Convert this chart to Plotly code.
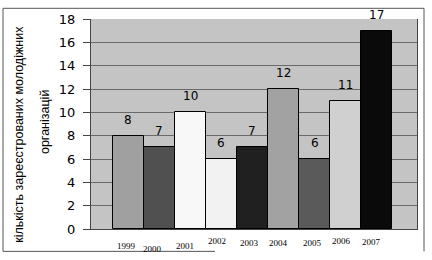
import plotly.graph_objects as go

years = ["1999", "2000", "2001", "2002", "2003", "2004", "2005", "2006", "2007"]
counts = [8, 7, 10, 6, 7, 12, 6, 11, 17]
bar_colors = ["#a0a0a0", "#505050", "#f8f8f8", "#f2f2f2", "#202020",
              "#a2a2a2", "#5a5a5a", "#d0d0d0", "#0a0a0a"]
y_ticks = [0, 2, 4, 6, 8, 10, 12, 14, 16, 18]
y_title_lines = ["кількість зареєстрованих молодіжних", "організацій"]

# pixel nudges of the year labels (style only)
year_dx = [-2, -7, -5, -4, -3, -5, -2, -4, -5]
year_dy = [17, 20, 17, 12, 14, 14, 14, 12, 13]

W, H = 432, 260
L, R, T, B = 91, 15, 13, 31
pw, ph = W - L - R, H - T - B

def px(x):
    return (x - L) / pw

def py(y):
    return (H - B - y) / ph

fig = go.Figure()
fig.add_trace(go.Bar(
    x=years, y=counts,
    marker=dict(color=bar_colors, line=dict(color="#000000", width=1)),
    width=1.0,
    hoverinfo="skip",
))

annotations = []
for i, v in enumerate(counts):
    annotations.append(dict(
        x=i, y=v, xref="x", yref="y", text=str(v), showarrow=False,
        yshift=16, font=dict(family="DejaVu Sans", size=12, color="#000000"),
    ))
for i, (yr, dx, dy) in enumerate(zip(years, year_dx, year_dy)):
    annotations.append(dict(
        x=i, y=0, xref="x", yref="y", text=yr, showarrow=False,
        xshift=dx, yshift=-dy,
        font=dict(family="Liberation Serif", size=9, color="#000000"),
    ))
annotations.append(dict(
    x=px(19), y=py(132), xref="paper", yref="paper", text=y_title_lines[0],
    textangle=-90, showarrow=False, xanchor="center", yanchor="middle",
    font=dict(family="Liberation Sans", size=12.5, color="#000000"),
))
annotations.append(dict(
    x=px(45), y=py(119), xref="paper", yref="paper", text=y_title_lines[1],
    textangle=-90, showarrow=False, xanchor="center", yanchor="middle",
    font=dict(family="Liberation Sans", size=12.5, color="#000000"),
))

line = dict(color="#555555", width=1)
shapes = [
    dict(type="line", xref="paper", yref="paper", x0=px(3), x1=px(424), y0=py(2), y1=py(2), line=line),
    dict(type="line", xref="paper", yref="paper", x0=px(3), x1=px(3), y0=py(2), y1=py(252), line=line),
    dict(type="line", xref="paper", yref="paper", x0=px(424), x1=px(424), y0=py(2), y1=py(252), line=line),
    dict(type="line", xref="paper", yref="paper", x0=px(3), x1=px(215), y0=py(252), y1=py(252), line=line),
]

fig.update_layout(
    width=W, height=H,
    margin=dict(l=L, r=R, t=T, b=B),
    paper_bgcolor="#ffffff",
    plot_bgcolor="#c4c4c4",
    showlegend=False,
    bargap=0,
    annotations=annotations,
    shapes=shapes,
    xaxis=dict(
        type="category", range=[-1.2, 9.3], showticklabels=False,
        showgrid=False, showline=True, linecolor="#444444", linewidth=1,
        ticks="", zeroline=False, fixedrange=True,
    ),
    yaxis=dict(
        range=[0, 18], tickvals=y_ticks, showgrid=True, gridcolor="#6a6a6a",
        gridwidth=1, showline=True, linecolor="#444444", linewidth=1,
        mirror=True, ticks="outside", ticklen=7, tickcolor="#444444",
        ticklabelstandoff=5,
        tickfont=dict(family="DejaVu Sans", size=13, color="#000000"),
        zeroline=False, fixedrange=True,
    ),
)

fig.write_html("out.html")
